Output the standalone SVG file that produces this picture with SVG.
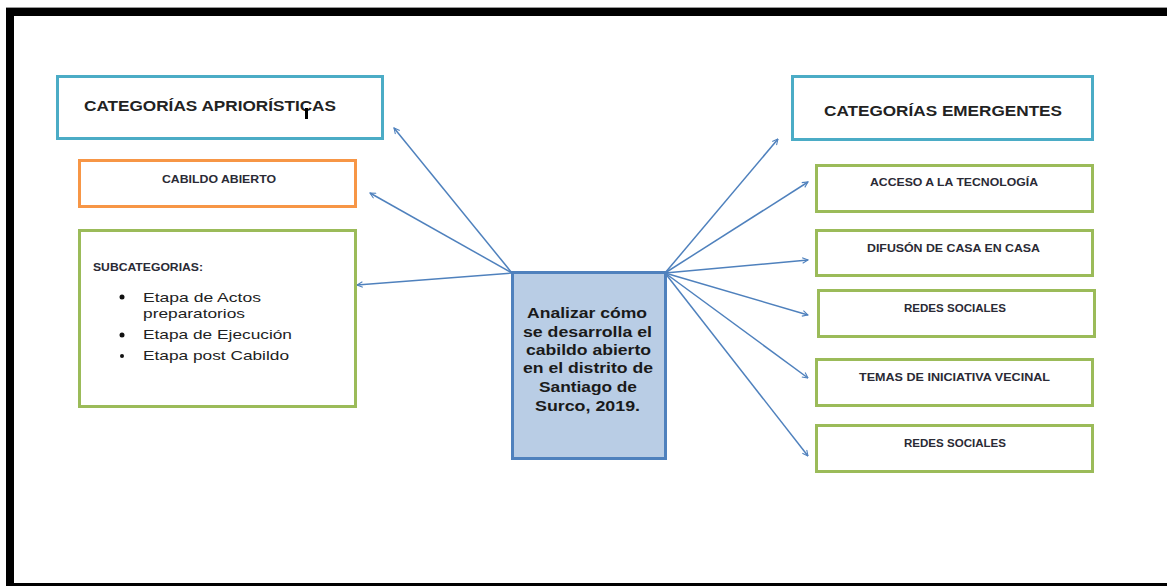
<svg xmlns="http://www.w3.org/2000/svg" width="1167" height="586" viewBox="0 0 1167 586">
<defs>
<style>
.frame{fill:#000}
.box{fill:#fff;stroke-width:3}
.blue{stroke:#4BACC6}
.orange{stroke:#F79646}
.green{stroke:#9BBB59}
.center{fill:#B9CDE5;stroke:#4F81BD;stroke-width:3}
.title{font-family:"Liberation Sans",Arial,sans-serif;font-weight:bold;font-size:14px;fill:#222}
.small{font-family:"Liberation Sans",Arial,sans-serif;font-weight:bold;font-size:11px;fill:#2a2a35}
.item{font-family:"Liberation Sans",Arial,sans-serif;font-size:13.5px;fill:#222}
.ctext{font-family:"Liberation Sans",Arial,sans-serif;font-weight:bold;font-size:14px;fill:#1a1a1a}
.conn line{stroke:#4F81BD;stroke-width:1.5;fill:none;marker-end:url(#arr)}
</style>
<marker id="arr" viewBox="0 0 10 10" refX="9" refY="5" markerWidth="7" markerHeight="7" orient="auto" markerUnits="userSpaceOnUse">
<path d="M1,1 L9,5 L1,9" fill="none" stroke="#4F81BD" stroke-width="1.5"/>
</marker>
</defs>
<rect width="1167" height="586" fill="#fff"/>
<g id="frame">
<rect x="6" y="7" width="1161" height="1" fill="#999"/>
<rect class="frame" x="6" y="8" width="1161" height="8"/>
<rect class="frame" x="6" y="8" width="8" height="578"/>
<rect class="frame" x="6" y="583" width="1161" height="3"/>
</g>
<g class="conn" id="connectors">
<line x1="512" y1="273" x2="394" y2="128"/>
<line x1="512" y1="273" x2="370" y2="193"/>
<line x1="512" y1="273" x2="357" y2="285"/>
<line x1="665" y1="273" x2="778" y2="139"/>
<line x1="665" y1="273" x2="808" y2="182"/>
<line x1="665" y1="273" x2="808" y2="260"/>
<line x1="665" y1="273" x2="808" y2="315"/>
<line x1="665" y1="273" x2="808" y2="378"/>
<line x1="665" y1="273" x2="808" y2="456"/>
</g>
<g id="apriori">
<rect class="box blue" x="57.5" y="76.5" width="325" height="62"/>
<text class="title" x="84" y="111" textLength="252" lengthAdjust="spacingAndGlyphs">CATEGORÍAS APRIORÍSTICAS</text>
<rect x="305" y="108" width="3" height="11" fill="#000"/>
</g>
<g id="cabildo">
<rect class="box orange" x="79.5" y="160.5" width="276" height="46"/>
<text class="small" x="162" y="183" textLength="114" lengthAdjust="spacingAndGlyphs">CABILDO ABIERTO</text>
</g>
<g id="subcategorias">
<rect class="box green" x="79.5" y="230.5" width="276" height="176"/>
<text class="small" x="93" y="271" textLength="110" lengthAdjust="spacingAndGlyphs">SUBCATEGORIAS:</text>
<circle cx="122" cy="297" r="2.5" fill="#111"/>
<circle cx="122" cy="335" r="2.5" fill="#111"/>
<circle cx="122" cy="356" r="2" fill="#111"/>
<text class="item" x="143" y="302" textLength="118" lengthAdjust="spacingAndGlyphs">Etapa de Actos</text>
<text class="item" x="143" y="318" textLength="102" lengthAdjust="spacingAndGlyphs">preparatorios</text>
<text class="item" x="143" y="339" textLength="149" lengthAdjust="spacingAndGlyphs">Etapa de Ejecución</text>
<text class="item" x="143" y="360" textLength="146" lengthAdjust="spacingAndGlyphs">Etapa post Cabildo</text>
</g>
<g id="objetivo">
<rect class="center" x="512.5" y="272.5" width="153" height="186"/>
<text class="ctext" x="587" y="318" text-anchor="middle" textLength="120" lengthAdjust="spacingAndGlyphs">Analizar cómo</text>
<text class="ctext" x="587.5" y="337" text-anchor="middle" textLength="129" lengthAdjust="spacingAndGlyphs">se desarrolla el</text>
<text class="ctext" x="588.5" y="355" text-anchor="middle" textLength="125" lengthAdjust="spacingAndGlyphs">cabildo abierto</text>
<text class="ctext" x="588" y="373" text-anchor="middle" textLength="130" lengthAdjust="spacingAndGlyphs">en el distrito de</text>
<text class="ctext" x="588" y="392" text-anchor="middle" textLength="98" lengthAdjust="spacingAndGlyphs">Santiago de</text>
<text class="ctext" x="587.5" y="411" text-anchor="middle" textLength="105" lengthAdjust="spacingAndGlyphs">Surco, 2019.</text>
</g>
<g id="emergentes">
<rect class="box blue" x="792.5" y="76.5" width="300" height="63"/>
<text class="title" x="824" y="116" textLength="238" lengthAdjust="spacingAndGlyphs">CATEGORÍAS EMERGENTES</text>
</g>
<g id="acceso">
<rect class="box green" x="816.5" y="165.5" width="276" height="46"/>
<text class="small" x="870" y="186" textLength="168" lengthAdjust="spacingAndGlyphs">ACCESO A LA TECNOLOGÍA</text>
</g>
<g id="difusion">
<rect class="box green" x="816.5" y="230.5" width="276" height="45"/>
<text class="small" x="867" y="252" textLength="173" lengthAdjust="spacingAndGlyphs">DIFUSÓN DE CASA EN CASA</text>
</g>
<g id="redes1">
<rect class="box green" x="818.5" y="290.5" width="276" height="46"/>
<text class="small" x="904" y="312" textLength="102" lengthAdjust="spacingAndGlyphs">REDES SOCIALES</text>
</g>
<g id="temas">
<rect class="box green" x="816.5" y="359.5" width="276" height="46"/>
<text class="small" x="859" y="381" textLength="191" lengthAdjust="spacingAndGlyphs">TEMAS DE INICIATIVA VECINAL</text>
</g>
<g id="redes2">
<rect class="box green" x="816.5" y="425.5" width="276" height="46"/>
<text class="small" x="904" y="447" textLength="102" lengthAdjust="spacingAndGlyphs">REDES SOCIALES</text>
</g>
</svg>
